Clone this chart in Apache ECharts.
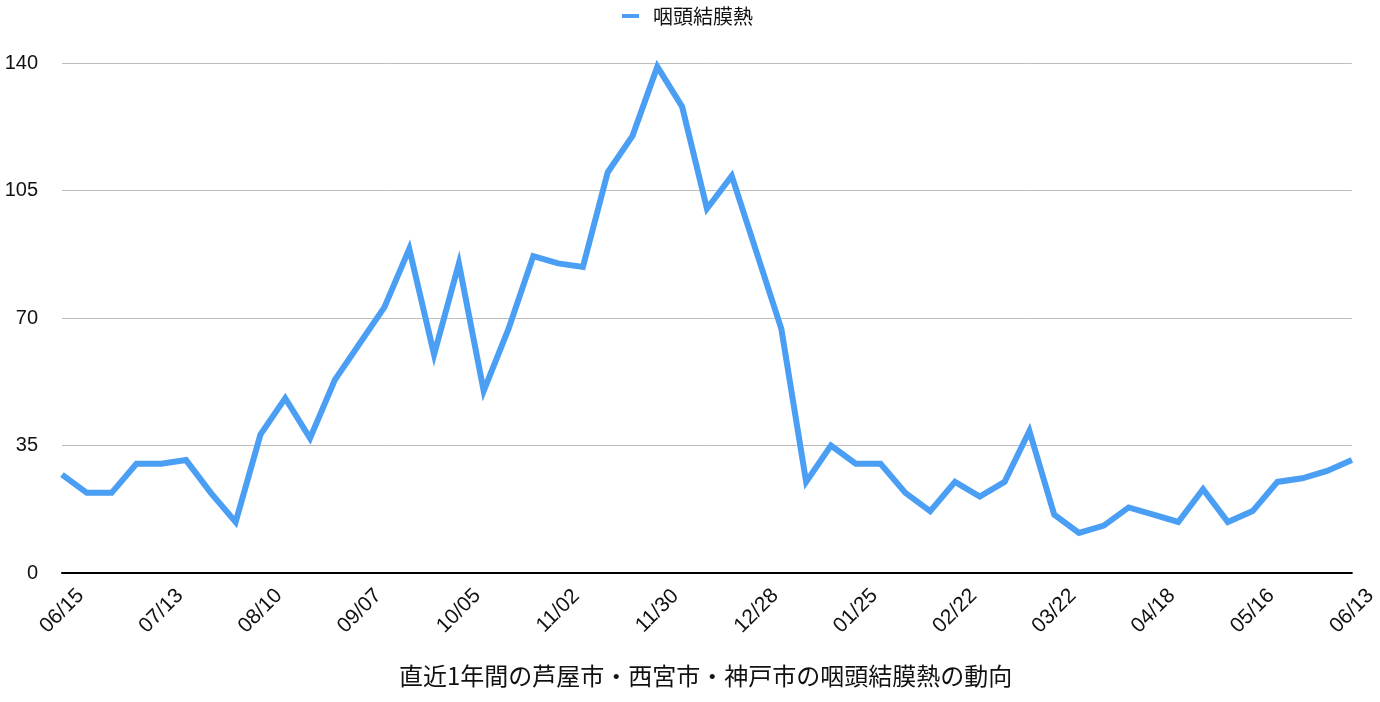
<!DOCTYPE html>
<html>
<head>
<meta charset="utf-8">
<script src="https://cdn.jsdelivr.net/npm/echarts@6/dist/echarts.min.js"></script>
<style>
html,body{margin:0;padding:0;background:#fff;}
#chart{width:1380px;height:702px;}
</style>
</head>
<body>
<div id="chart"></div>
<script>
const categories = [
  '06/15','06/22','06/29','07/06','07/13','07/20','07/27','08/03','08/10','08/17','08/24','08/31',
  '09/07','09/14','09/21','09/28','10/05','10/12','10/19','10/26','11/02','11/09','11/16','11/23',
  '11/30','12/07','12/14','12/21','12/28','01/04','01/11','01/18','01/25','02/01','02/08','02/15',
  '02/22','03/01','03/08','03/15','03/22','03/29','04/04','04/11','04/18','04/25','05/02','05/09',
  '05/16','05/23','05/30','06/06','06/13'
];
const seriesName = '咽頭結膜熱';
const values = [
  27,22,22,30,30,31,22,14,38,48,37,53,
  63,73,89,60,85,50,67,87,85,84,110,120,
  139,128,100,109,88,67,25,35,30,30,22,17,
  25,21,25,39,16,11,13,18,16,14,23,14,
  17,25,26,28,31
];
const yTicks = [0,35,70,105,140];
const titleText = '直近1年間の芦屋市・西宮市・神戸市の咽頭結膜熱の動向';

const chart = echarts.init(document.getElementById('chart'));
chart.setOption({
  animation: false,
  backgroundColor: '#ffffff',
  textStyle: { fontFamily: '"Noto Sans CJK JP", "Noto Sans", sans-serif' },
  title: {
    text: titleText,
    left: 394,
    top: 659,
    textStyle: { fontSize: 24, fontWeight: 'normal', color: '#111', fontFamily: '"Noto Sans CJK JP", sans-serif' }
  },
  legend: {
    top: 1,
    left: 617,
    itemWidth: 17,
    itemHeight: 4,
    itemGap: 10,
    icon: 'rect',
    textStyle: { fontSize: 20, color: '#111', padding: [0, 0, 0, 9], fontFamily: '"Noto Sans CJK JP", sans-serif' },
    data: [seriesName]
  },
  grid: { left: 62, right: 28, top: 63, bottom: 129, containLabel: false },
  xAxis: {
    type: 'category',
    data: categories,
    boundaryGap: false,
    axisLine: { lineStyle: { color: '#000', width: 2 } },
    axisTick: { show: false },
    axisLabel: {
      interval: 3,
      rotate: 45,
      align: 'center',
      verticalAlign: 'middle',
      margin: 38,
      fontSize: 21,
      color: '#111',
      fontFamily: '"Liberation Sans", "DejaVu Sans", sans-serif'
    },
    splitLine: { show: false }
  },
  yAxis: {
    type: 'value',
    min: yTicks[0],
    max: yTicks[yTicks.length - 1],
    interval: 35,
    axisLine: { show: false },
    axisTick: { show: false },
    axisLabel: {
      margin: 24,
      fontSize: 20,
      color: '#111',
      fontFamily: '"Liberation Sans", "DejaVu Sans", sans-serif'
    },
    splitLine: { lineStyle: { color: '#bdbdbd', width: 1 } }
  },
  series: [{
    name: seriesName,
    type: 'line',
    data: values,
    showSymbol: false,
    symbol: 'none',
    lineStyle: { color: '#4a9ff5', width: 6, join: 'miter', cap: 'butt' },
    itemStyle: { color: '#4a9ff5' }
  }]
});
</script>
</body>
</html>
